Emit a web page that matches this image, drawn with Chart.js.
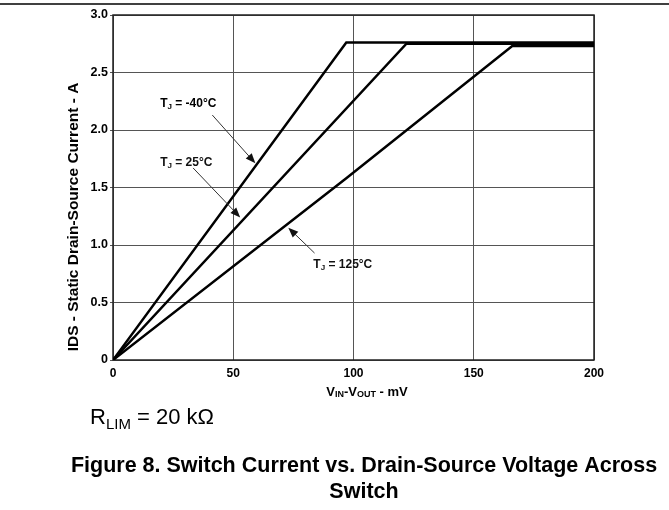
<!DOCTYPE html>
<html>
<head>
<meta charset="utf-8">
<script src="https://cdn.jsdelivr.net/npm/chart.js@4.4.1/dist/chart.umd.min.js"></script>
<style>
    html, body { margin: 0; padding: 0; background: #fff; }
    #wrap { width: 669px; height: 510px; }
</style>
</head>
<body>
<div id="wrap"><canvas id="chart" width="669" height="510"></canvas></div>
<script>
// Axis ticks
const xTicks = [0, 50, 100, 150, 200];
const yTicks = [0, 0.5, 1.0, 1.5, 2.0, 2.5, 3.0];

// Curves (mV, A)
const vM40 = [0, 97, 200];
const iM40 = [0, 2.76, 2.76];
const v25 = [0, 122, 200];
const i25 = [0, 2.75, 2.75];
const v125 = [0, 97, 166, 200];
const i125 = [0, 1.58, 2.73, 2.73];

// Labels and where their arrows point (data coords)
const labelTemps = ['-40°C', '25°C', '125°C'];
const labelPos = [[19.6, 2.23], [19.6, 1.72], [83.3, 0.83]];
const arrowFrom = [[41.3, 2.13], [33.3, 1.67], [83.8, 0.93]];
const arrowTo = [[59.2, 1.71], [52.9, 1.24], [72.9, 1.15]];

const toPoints = (xs, ys) => xs.map((x, i) => ({ x: x, y: ys[i] }));

const FONT = '"Liberation Sans", Arial, sans-serif';

// Draw main text, a subscript, then the rest
const drawSubText = (ctx, x, y, main, sub, rest, size, weight) => {
    ctx.font = `${weight} ${size}px ${FONT}`;
    ctx.textBaseline = 'middle';
    ctx.textAlign = 'left';
    ctx.fillText(main, x, y);
    let cx = x + ctx.measureText(main).width;
    ctx.font = `${weight} ${Math.round(size * 0.68)}px ${FONT}`;
    ctx.fillText(sub, cx, y + size * 0.3);
    cx += ctx.measureText(sub).width;
    ctx.font = `${weight} ${size}px ${FONT}`;
    ctx.fillText(rest, cx, y);
};

const arrow = (ctx, x1, y1, x2, y2) => {
    const ang = Math.atan2(y2 - y1, x2 - x1);
    const len = 10, half = 4;
    ctx.strokeStyle = '#333';
    ctx.lineWidth = 1;
    ctx.beginPath();
    ctx.moveTo(x1, y1);
    ctx.lineTo(x2 - Math.cos(ang) * len * 0.8, y2 - Math.sin(ang) * len * 0.8);
    ctx.stroke();
    ctx.fillStyle = '#111';
    ctx.beginPath();
    ctx.moveTo(x2, y2);
    ctx.lineTo(x2 - Math.cos(ang) * len - Math.sin(ang) * half, y2 - Math.sin(ang) * len + Math.cos(ang) * half);
    ctx.lineTo(x2 - Math.cos(ang) * len + Math.sin(ang) * half, y2 - Math.sin(ang) * len - Math.cos(ang) * half);
    ctx.closePath();
    ctx.fill();
};

const framePlugin = {
    id: 'frame',
    beforeDatasetsDraw(chart) {
        const { ctx, chartArea: a } = chart;
        ctx.save();
        ctx.strokeStyle = '#222';
        ctx.lineWidth = 1.5;
        ctx.strokeRect(a.left, a.top, a.right - a.left, a.bottom - a.top);
        ctx.restore();
    },
    afterDraw(chart) {
        const { ctx, scales } = chart;
        const sx = scales.x, sy = scales.y;
        ctx.save();

        // rule at the top of the page
        ctx.strokeStyle = '#000';
        ctx.lineWidth = 1.5;
        ctx.beginPath();
        ctx.moveTo(0, 4);
        ctx.lineTo(669, 4);
        ctx.stroke();

        // temperature labels with arrows
        ctx.fillStyle = '#000';
        labelTemps.forEach((t, i) => {
            drawSubText(ctx, sx.getPixelForValue(labelPos[i][0]), sy.getPixelForValue(labelPos[i][1]),
                'T', 'J', ' = ' + t, 12, 'bold');
            arrow(ctx, sx.getPixelForValue(arrowFrom[i][0]), sy.getPixelForValue(arrowFrom[i][1]),
                sx.getPixelForValue(arrowTo[i][0]), sy.getPixelForValue(arrowTo[i][1]));
        });

        // y axis title
        ctx.fillStyle = '#000';
        ctx.save();
        ctx.translate(74, 217);
        ctx.rotate(-Math.PI / 2);
        ctx.font = `bold 15.5px ${FONT}`;
        ctx.textAlign = 'center';
        ctx.textBaseline = 'middle';
        ctx.fillText('IDS - Static Drain-Source Current - A', 0, 0);
        ctx.restore();

        // x axis title: V_IN-V_OUT - mV
        const parts = [['V', 13, 0], ['IN', 9, 3], ['-V', 13, 0], ['OUT', 9, 3], [' - mV', 13, 0]];
        let w = 0;
        parts.forEach(p => { ctx.font = `bold ${p[1]}px ${FONT}`; w += ctx.measureText(p[0]).width; });
        let cx = 367 - w / 2;
        ctx.textAlign = 'left';
        ctx.textBaseline = 'middle';
        parts.forEach(p => {
            ctx.font = `bold ${p[1]}px ${FONT}`;
            ctx.fillText(p[0], cx, 392 + p[2]);
            cx += ctx.measureText(p[0]).width;
        });

        // R_LIM note
        drawSubText(ctx, 90, 418, 'R', 'LIM', ' = 20 kΩ', 22, 'normal');

        // caption
        ctx.font = `bold 21.5px ${FONT}`;
        ctx.textAlign = 'center';
        ctx.textBaseline = 'middle';
        ctx.fillText('Figure 8. Switch Current vs. Drain-Source Voltage Across', 364, 466);
        ctx.fillText('Switch', 364, 492);
        ctx.restore();
    }
};

const lineStyle = {
    borderColor: '#000',
    borderWidth: 2.5,
    pointRadius: 0,
    tension: 0,
    fill: false
};

new Chart(document.getElementById('chart'), {
    type: 'line',
    data: {
        datasets: [
            { label: 'TJ = -40°C', data: toPoints(vM40, iM40), ...lineStyle },
            { label: 'TJ = 25°C', data: toPoints(v25, i25), ...lineStyle },
            { label: 'TJ = 125°C', data: toPoints(v125, i125), ...lineStyle }
        ]
    },
    options: {
        responsive: false,
        devicePixelRatio: 1,
        animation: false,
        layout: { padding: { left: 0, top: 15, right: 75, bottom: 130 } },
        plugins: {
            legend: { display: false },
            tooltip: { enabled: false }
        },
        scales: {
            x: {
                type: 'linear',
                min: 0,
                max: 200,
                afterBuildTicks: scale => { scale.ticks = xTicks.map(v => ({ value: v })); },
                afterFit: scale => { scale.height = 20; },
                grid: { color: '#555', lineWidth: 1, drawTicks: false },
                border: { display: false },
                ticks: {
                    padding: 6,
                    color: '#000',
                    font: { family: FONT, size: 12, weight: 'bold' },
                    maxRotation: 0
                }
            },
            y: {
                type: 'linear',
                min: 0,
                max: 3,
                afterBuildTicks: scale => { scale.ticks = yTicks.map(v => ({ value: v })); },
                afterFit: scale => { scale.width = 113; },
                grid: { color: '#555', lineWidth: 1, tickLength: 3 },
                border: { display: false },
                ticks: {
                    padding: 2,
                    color: '#000',
                    font: { family: FONT, size: 12.5, weight: 'bold' },
                    callback: v => (v === 0 ? '0' : v.toFixed(1))
                }
            }
        }
    },
    plugins: [framePlugin]
});
</script>
</body>
</html>
